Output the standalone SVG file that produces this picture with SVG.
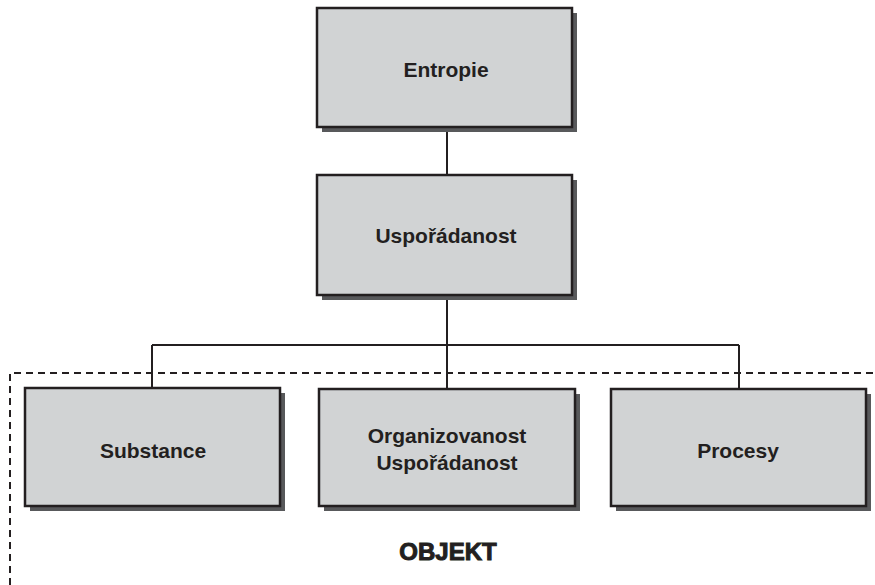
<svg xmlns="http://www.w3.org/2000/svg" width="875" height="585" viewBox="0 0 875 585">
<style>
.shadow{fill:#58595b}
.box{fill:#d1d3d4;stroke:#231f20;stroke-width:2.5}
.lbl{font-family:"Liberation Sans",Arial,sans-serif;font-weight:bold;font-size:21px;fill:#231f20;text-anchor:middle}
.conn{stroke:#231f20;stroke-width:2;fill:none}
.dash{stroke:#231f20;stroke-width:2;fill:none;stroke-dasharray:7 5}
.title{font-family:"Liberation Sans",Arial,sans-serif;font-weight:900;font-size:24px;fill:#231f20;stroke:#231f20;stroke-width:1;text-anchor:middle}
</style>
<rect width="875" height="585" fill="#ffffff"/>
<g id="connectors">
<path class="conn" d="M447 127V175M447 295V389M152 345H739M152 345V388M739 345V389"/>
</g>
<g id="objekt-frame">
<path class="dash" d="M10 585V373H875"/>
<text class="title" x="448" y="560">OBJEKT</text>
</g>
<g id="entropie">
<rect class="shadow" x="322" y="13" width="255" height="119"/>
<rect class="box" x="317" y="8" width="255" height="119"/>
<text class="lbl" x="446" y="77">Entropie</text>
</g>
<g id="usporadanost">
<rect class="shadow" x="322" y="180" width="255" height="120"/>
<rect class="box" x="317" y="175" width="255" height="120"/>
<text class="lbl" x="446" y="243">Uspořádanost</text>
</g>
<g id="substance">
<rect class="shadow" x="30" y="393" width="255" height="118"/>
<rect class="box" x="25" y="388" width="255" height="118"/>
<text class="lbl" x="153" y="458">Substance</text>
</g>
<g id="organizovanost">
<rect class="shadow" x="324" y="394" width="256" height="117"/>
<rect class="box" x="319" y="389" width="256" height="117"/>
<text class="lbl" x="447" y="443">Organizovanost</text>
<text class="lbl" x="447" y="470">Uspořádanost</text>
</g>
<g id="procesy">
<rect class="shadow" x="616" y="394" width="255" height="117"/>
<rect class="box" x="611" y="389" width="255" height="117"/>
<text class="lbl" x="738" y="458">Procesy</text>
</g>
</svg>
